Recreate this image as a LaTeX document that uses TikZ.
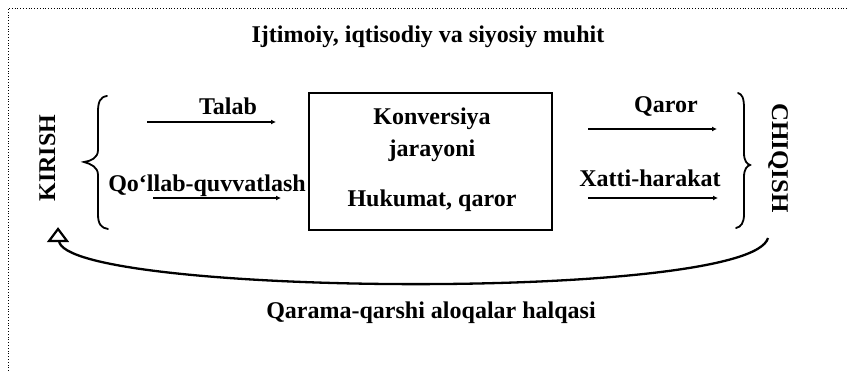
\documentclass[tikz,border=0pt]{standalone}
\usepackage{fontspec}
\setmainfont{Liberation Serif}
\usetikzlibrary{arrows.meta}
\tikzset{
  lbl/.style={font=\fontsize{24}{28}\selectfont\bfseries, inner sep=0pt, anchor=base},
  flow/.style={line width=2.3pt, -{Latex[length=5pt,width=5pt]}},
  brace/.style={line width=1.8pt, line cap=round},
  frame/.style={dotted, line width=0.8pt},
}
\begin{document}
\begin{tikzpicture}[x=1pt,y=-1pt]
\useasboundingbox (0,0) rectangle (848,371);
% frame
\coordinate (fr1) at (8,371);
\coordinate (fr2) at (8,8);
\coordinate (fr3) at (848,8);
\draw[frame] (fr1) -- (fr2) -- (fr3);
% title
\node[lbl] (title) at (428,43) {Ijtimoiy, iqtisodiy va siyosiy muhit};
% central box
\node[draw, line width=1.8pt, minimum width=243pt, minimum height=137pt, inner sep=0pt] (box) at (430.5,161.5) {};
\node[lbl] (konv) at (432,125) {Konversiya};
\node[lbl] (jar) at (432,157) {jarayoni};
\node[lbl] (huk) at (432,207) {Hukumat, qaror};
% inputs
\node[lbl, rotate=90, anchor=base] (kirish) at (55,158) {KIRISH};
\node[lbl] (talab) at (228,115) {Talab};
\node[lbl] (qollab) at (207,192) {Qo‘llab-quvvatlash};
\coordinate (t1) at (147,122);
\coordinate (t2) at (276,122);
\coordinate (q1) at (153,198);
\coordinate (q2) at (281,198);
\draw[flow] (t1) -- (t2);
\draw[flow] (q1) -- (q2);
% left brace
\coordinate (lbt) at (107,96);
\coordinate (lbtip) at (84,162);
\coordinate (lbb) at (108,229);
\draw[brace] (lbt) .. controls (100,97) and (98,102) .. (98,112)
  -- (98,150) .. controls (98,158) and (91,161) .. (lbtip)
  .. controls (91,164) and (98,167) .. (98,175)
  -- (98,214) .. controls (98,224) and (101,228) .. (lbb);
% outputs
\node[lbl] (qaror) at (666,113) {Qaror};
\node[lbl] (xatti) at (650,187) {Xatti-harakat};
\coordinate (a1) at (588,129);
\coordinate (a2) at (717,129);
\coordinate (b1) at (588,198);
\coordinate (b2) at (718,198);
\draw[flow] (a1) -- (a2);
\draw[flow] (b1) -- (b2);
% right brace
\coordinate (rbt) at (738,93);
\coordinate (rbtip) at (750,165);
\coordinate (rbb) at (736,228);
\draw[brace] (rbt) .. controls (742,94) and (744,98) .. (744,108)
  -- (744,153) .. controls (744,161) and (747,164) .. (rbtip)
  .. controls (747,166) and (744,169) .. (744,177)
  -- (744,214) .. controls (744,223) and (741,227) .. (rbb);
\node[lbl, rotate=-90, anchor=base] (chiqish) at (772,158) {\scalebox{1.04}[1]{CHIQISH}};
% feedback loop
\coordinate (fbs) at (768,238);
\coordinate (fbb) at (59,241);
\draw[line width=2.3pt] (fbs) .. controls (750,302) and (66,296) .. (fbb);
\coordinate (tri1) at (58,229);
\coordinate (tri2) at (67,241);
\coordinate (tri3) at (49,241);
\draw[line width=2.2pt, line join=miter] (tri1) -- (tri2) -- (tri3) -- cycle;
\node[lbl] (fb) at (431,318) {Qarama-qarshi aloqalar halqasi};
\end{tikzpicture}
\end{document}
